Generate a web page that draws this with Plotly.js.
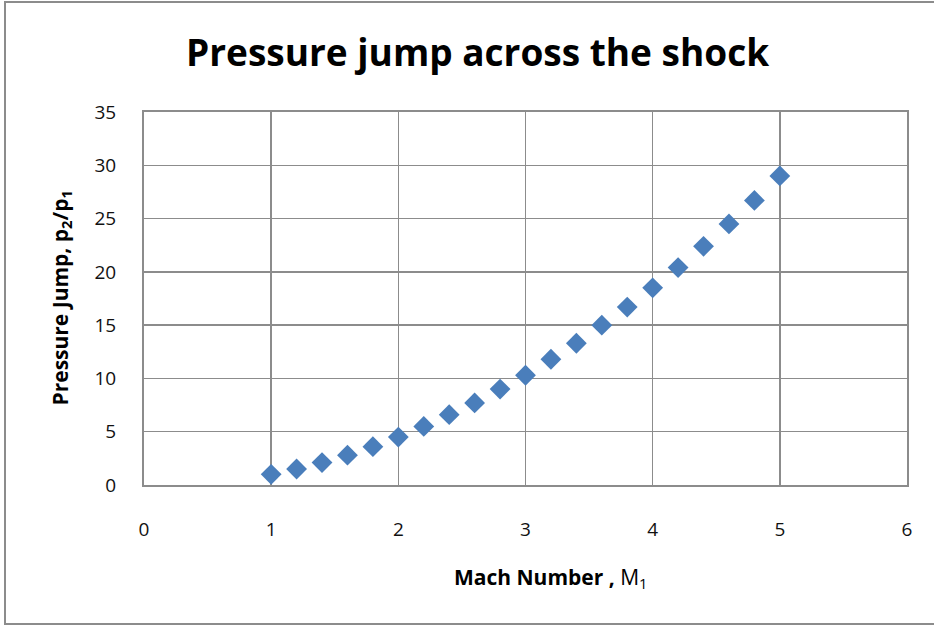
<!DOCTYPE html>
<html>
<head>
<meta charset="utf-8">
<script src="https://cdn.plot.ly/plotly-3.0.1.min.js"></script>
<style>html,body{margin:0;padding:0;background:#fff;}#chart{width:934px;height:626px;}</style>
</head>
<body>
<div id="chart"></div>
<script>
const machNumbers = [1.0, 1.2, 1.4, 1.6, 1.8, 2.0, 2.2, 2.4, 2.6, 2.8, 3.0, 3.2, 3.4, 3.6, 3.8, 4.0, 4.2, 4.4, 4.6, 4.8, 5.0];
const pressureJump = [1.0, 1.5, 2.1, 2.8, 3.6, 4.5, 5.5, 6.6, 7.7, 9.0, 10.3, 11.8, 13.3, 15.0, 16.7, 18.5, 20.4, 22.4, 24.5, 26.7, 29.0];
const xTicks = [0, 1, 2, 3, 4, 5, 6];
const yTicks = [0, 5, 10, 15, 20, 25, 30, 35];

const font = "Open Sans, Noto Sans, sans-serif";
const grid = "#8c8c8c";

const trace = {
  x: machNumbers,
  y: pressureJump,
  type: "scatter",
  mode: "markers",
  marker: {symbol: "diamond", size: 16, color: "#4a7ebb"},
  hoverinfo: "x+y"
};

const layout = {
  width: 934, height: 626,
  margin: {l: 144, r: 27, t: 112, b: 141},
  paper_bgcolor: "#ffffff",
  plot_bgcolor: "#ffffff",
  showlegend: false,
  font: {family: font, color: "#000"},
  xaxis: {
    range: [0, 6], tickvals: xTicks, ticktext: xTicks.map(String),
    showgrid: true, gridcolor: grid, gridwidth: 1.5,
    showline: true, linecolor: grid, linewidth: 2, mirror: true,
    zeroline: false,
    ticks: "outside", ticklen: 26, tickcolor: "rgba(0,0,0,0)",
    tickfont: {size: 19, family: font, color: "#111"}
  },
  yaxis: {
    range: [0, 35], tickvals: yTicks, ticktext: yTicks.map(String),
    showgrid: true, gridcolor: grid, gridwidth: 1.5,
    showline: true, linecolor: grid, linewidth: 2, mirror: true,
    zeroline: false,
    ticks: "outside", ticklen: 22, tickcolor: "rgba(0,0,0,0)",
    tickfont: {size: 19, family: font, color: "#111"}
  },
  annotations: [
    {text: "<b>Pressure jump across the shock</b>", xref: "paper", yref: "paper",
     x: (477 - 144) / 763, y: (485 - 52) / 373, xanchor: "center", yanchor: "middle",
     showarrow: false, font: {size: 37, family: font, color: "#000"}},
    {text: "<b>Mach Number , </b>M<sub>1</sub>", xref: "paper", yref: "paper",
     x: (550 - 144) / 763, y: (485 - 578) / 373, xanchor: "center", yanchor: "middle",
     showarrow: false, font: {size: 21, family: font, color: "#000"}},
    {text: "<b>Pressure Jump, p<sub>2</sub>/p<sub>1</sub></b>", xref: "paper", yref: "paper",
     x: (60 - 144) / 763, y: 0.5, xanchor: "center", yanchor: "middle", textangle: -90,
     showarrow: false, font: {size: 21, family: font, color: "#000"}}
  ],
  shapes: [
    {type: "rect", xref: "paper", yref: "paper",
     x0: (5 - 144) / 763, x1: (1100 - 144) / 763,
     y0: (485 - 624) / 373, y1: (485 - 2) / 373,
     line: {color: "#8c8c8c", width: 2}, fillcolor: "rgba(0,0,0,0)", layer: "below"}
  ]
};

Plotly.newPlot("chart", [trace], layout, {staticPlot: true, displayModeBar: false});
</script>
</body>
</html>
